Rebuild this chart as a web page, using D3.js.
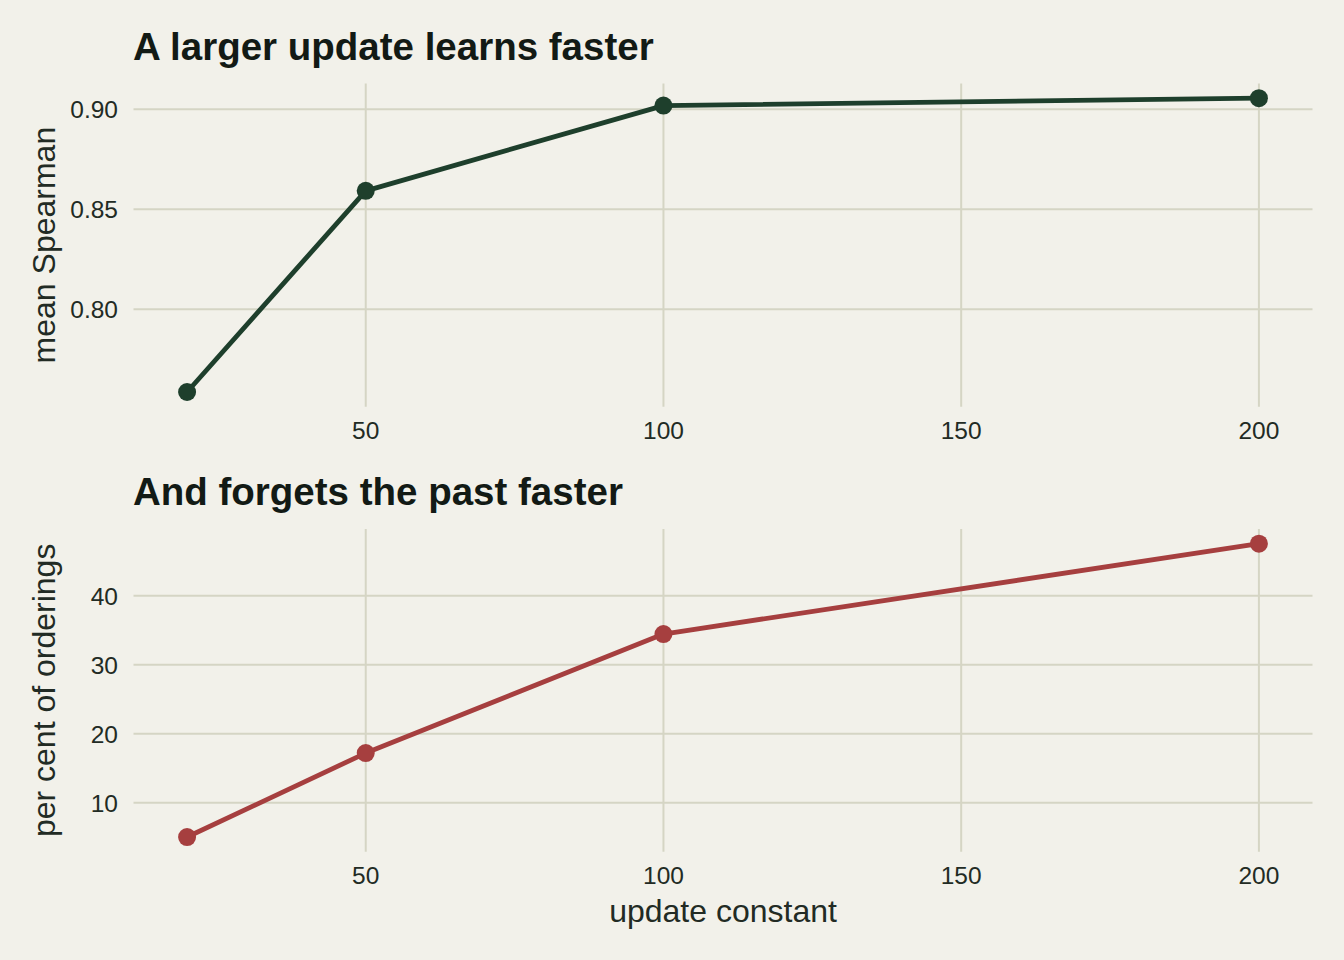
<!DOCTYPE html>
<html><head><meta charset="utf-8">
<script src="https://cdn.jsdelivr.net/npm/d3@7"></script>
<style>
html,body{margin:0;padding:0;background:#F2F1EA;}
svg{display:block;}
text{font-family:"Liberation Sans",Arial,Helvetica,sans-serif;}
</style></head>
<body>
<svg id="chart" width="1344" height="960"></svg>
<script>
const updateConstant = [20, 50, 100, 200];
const meanSpearman = [0.7587, 0.8592, 0.9018, 0.9055];
const pctOrderings = [5.03, 17.2, 34.45, 47.55];
const xTicks = [50, 100, 150, 200];
const yTicksTop = [0.80, 0.85, 0.90];
const yTicksBottom = [10, 20, 30, 40];
const titles = ["A larger update learns faster", "And forgets the past faster"];
const yLabels = ["mean Spearman", "per cent of orderings"];
const xLabel = "update constant";

const svg = d3.select("#chart");
const bg = "#F2F1EA", grid = "#D5D5C4", txt = "#222B24", titleCol = "#121A15";
svg.append("rect").attr("width",1344).attr("height",960).attr("fill",bg);

function pad(ext){const s=ext[1]-ext[0];return [ext[0]-0.05*s, ext[1]+0.05*s];}
const x = d3.scaleLinear().domain(pad(d3.extent(updateConstant))).range([133.5, 1312.5]);

function panel(values, yTicks, fmt, top, bottom, color, title, ylab){
  const y = d3.scaleLinear().domain(pad(d3.extent(values))).range([bottom, top]);
  const g = svg.append("g");
  g.selectAll(".hg").data(yTicks).join("line")
    .attr("x1",x.range()[0]).attr("x2",x.range()[1])
    .attr("y1",d=>y(d)).attr("y2",d=>y(d))
    .attr("stroke",grid).attr("stroke-width",2);
  g.selectAll(".vg").data(xTicks).join("line")
    .attr("x1",d=>x(d)).attr("x2",d=>x(d))
    .attr("y1",top).attr("y2",bottom)
    .attr("stroke",grid).attr("stroke-width",2);
  g.selectAll(".yt").data(yTicks).join("text")
    .attr("x",118).attr("y",d=>y(d)).attr("dy","0.36em")
    .attr("text-anchor","end").attr("font-size",24.5).attr("fill",txt)
    .text(fmt);
  g.selectAll(".xt").data(xTicks).join("text")
    .attr("x",d=>x(d)).attr("y",bottom+32.5)
    .attr("text-anchor","middle").attr("font-size",24.5).attr("fill",txt)
    .text(d=>d);
  g.append("text").attr("x",133).attr("y",top-24)
    .attr("font-size",38.5).attr("font-weight","bold").attr("fill",titleCol)
    .text(title);
  g.append("text")
    .attr("transform",`translate(55,${(top+bottom)/2}) rotate(-90)`)
    .attr("text-anchor","middle").attr("font-size",32).attr("fill",txt)
    .text(ylab);
  const data = updateConstant.map((u,i)=>({u, v: values[i]}));
  g.append("path").datum(data)
    .attr("d", d3.line().x(d=>x(d.u)).y(d=>y(d.v)))
    .attr("fill","none").attr("stroke",color).attr("stroke-width",4.8)
    .attr("stroke-linejoin","round");
  g.selectAll(".pt").data(data).join("circle")
    .attr("cx",d=>x(d.u)).attr("cy",d=>y(d.v)).attr("r",9)
    .attr("fill",color);
}

panel(meanSpearman, yTicksTop, d3.format(".2f"), 83.5, 406.7, "#1E3F2C", titles[0], yLabels[0]);
panel(pctOrderings, yTicksBottom, d=>d, 529, 851.7, "#A63F3F", titles[1], yLabels[1]);

svg.append("text").attr("x",(133.5+1312.5)/2).attr("y",921.5)
  .attr("text-anchor","middle").attr("font-size",32).attr("fill",txt)
  .text(xLabel);
</script>
</body></html>
